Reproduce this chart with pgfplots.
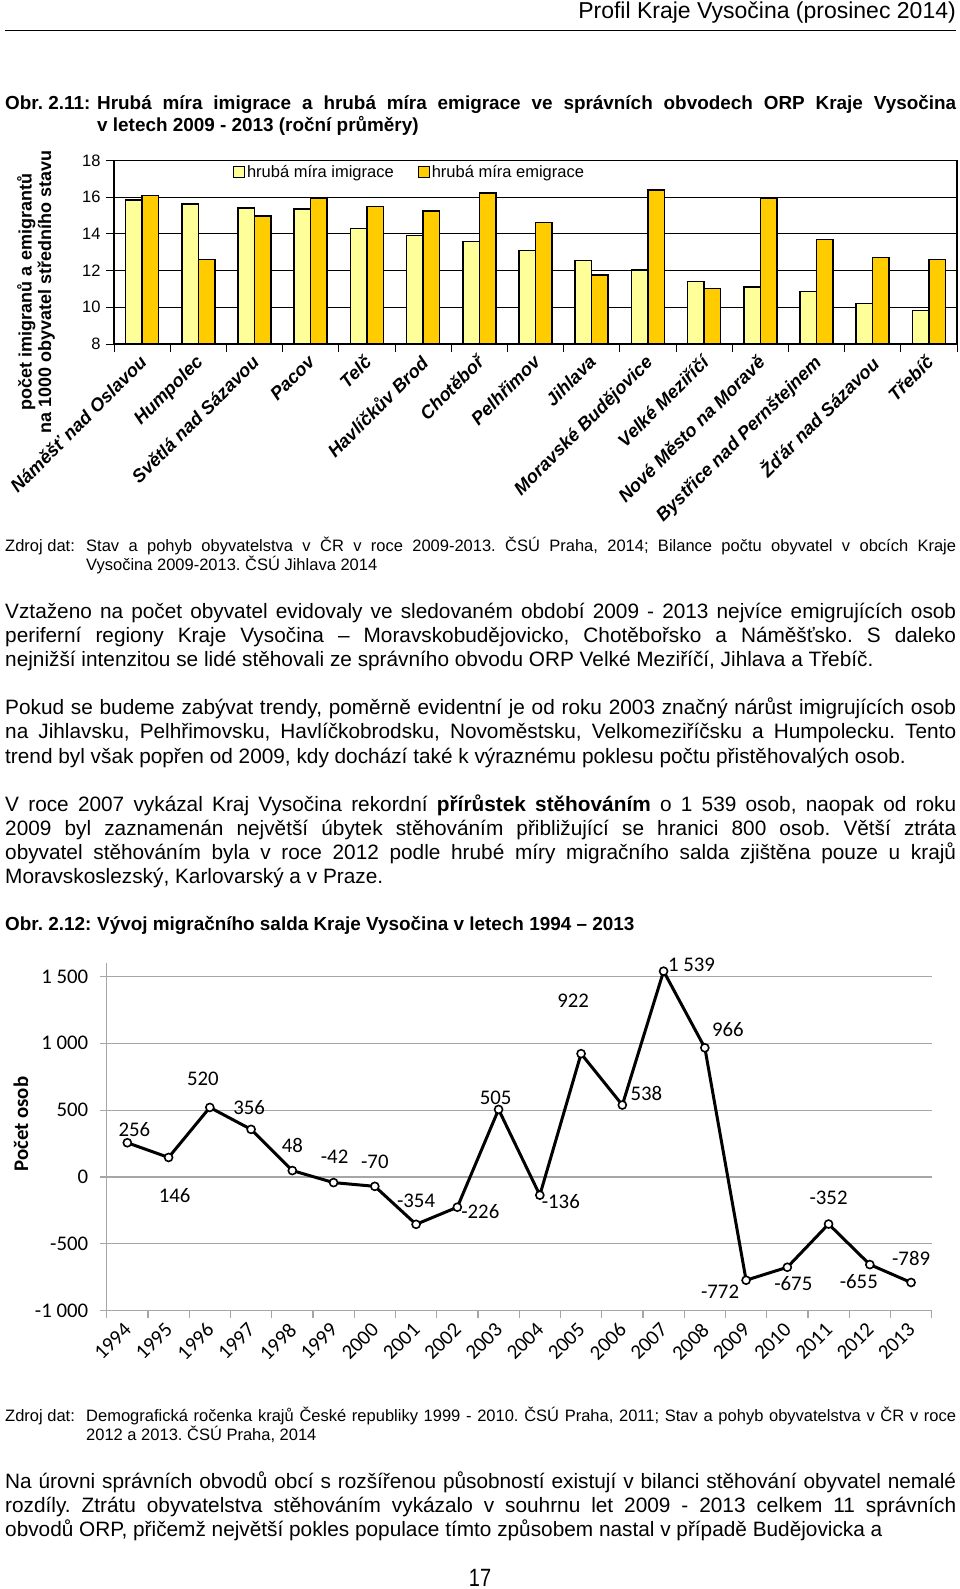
\documentclass[border=0pt]{standalone}
\usepackage{fontspec}
\setmainfont{Liberation Sans}
\newfontfamily\carlito{Carlito}
\usepackage{pgfplots}
\pgfplotsset{compat=1.18}
\definecolor{imig}{HTML}{FFFF99}
\definecolor{emig}{HTML}{FFCC00}
\definecolor{gridg}{HTML}{A6A6A6}
\pgfplotsset{sqlegend/.style={legend image code/.code={\draw[##1, line width=1pt] (0pt,-5.5pt) rectangle (11pt,5.5pt);}}}
\newcommand{\bodyf}{\fontsize{20.8}{24.3}\selectfont}
\newcommand{\srcf}{\fontsize{16.5}{19.6}\selectfont}
\newcommand{\ttlf}{\bfseries\fontsize{18.9}{22}\selectfont}
\newcommand{\calf}{\carlito\fontsize{20.8}{24}\selectfont}
\frenchspacing
\begin{document}
\begin{tikzpicture}[x=1pt,y=1pt]
\path[use as bounding box, fill=white] (0,0) rectangle (960,-1589);
% header
\node[anchor=base east, inner sep=0pt, font=\fontsize{23}{26}\selectfont] at (956,-19) {Profil Kraje Vysočina (prosinec 2014)};
\draw[line width=1pt] (5,-31) -- (956,-31);
% title 1
\node[anchor=base west, inner sep=0pt, font=\ttlf] at (5,-110) {Obr. 2.11:};
\node[anchor=base west, inner sep=0pt, text width=859pt, align=justify, font=\ttlf] at (97,-110) {Hrubá míra imigrace a hrubá míra emigrace ve správních obvodech ORP Kraje Vysočina\linebreak v letech 2009 - 2013 (roční průměry)};
% chart 1
\begin{axis}[
 at={(114pt,-344pt)}, anchor=south west, scale only axis,
 width=843pt, height=183.6pt,
 xmin=-0.5, xmax=14.5, ymin=8, ymax=18,
 ytick={8,10,...,18}, ymajorgrids, grid style={black, line width=0.8pt},
 axis line style={black, line width=1.2pt},
 tick align=outside, ytick pos=left, xtick pos=bottom,
 major tick length=8pt, minor tick length=8pt,
 tick style={black, line width=1pt},
 every major x tick/.append style={draw=none},
 xtick={0,...,14}, minor xtick={-0.5,0.5,...,14.5},
 xticklabels={Náměšť nad Oslavou, Humpolec, Světlá nad Sázavou, Pacov, Telč, Havlíčkův Brod, Chotěboř, Pelhřimov, Jihlava, Moravské Budějovice, Velké Meziříčí, Nové Město na Moravě, Bystřice nad Pernštejnem, Žďár nad Sázavou, Třebíč},
 xticklabel style={font=\bfseries\itshape\fontsize{18.3}{21}\selectfont, rotate=45, anchor=north east, inner sep=0pt, xshift=-4pt, yshift=1.5pt},
 /pgf/number format/assume math mode=true,
 yticklabel style={font=\fontsize{16.5}{19}\selectfont, xshift=-2pt},
 ybar=0pt, bar width=16.5pt,
 legend style={at={(0.141,0.938)}, anchor=west, draw=none, fill=none, inner sep=0pt,
   legend columns=2, font=\fontsize{16.5}{19}\selectfont,
   /tikz/every even column/.append style={column sep=22pt}},
 legend cell align=left,
]
\addplot[fill=imig, draw=black, line width=1.5pt, sqlegend]
 coordinates {(0,15.85) (1,15.62) (2,15.40) (3,15.35) (4,14.30) (5,13.90) (6,13.57) (7,13.10) (8,12.55) (9,12.04) (10,11.40) (11,11.10) (12,10.86) (13,10.20) (14,9.83)};
\addplot[fill=emig, draw=black, line width=1.5pt, sqlegend]
 coordinates {(0,16.10) (1,12.60) (2,14.97) (3,15.95) (4,15.50) (5,15.24) (6,16.22) (7,14.62) (8,11.75) (9,16.39) (10,11.03) (11,15.95) (12,13.70) (13,12.70) (14,12.60)};
\legend{hrubá míra imigrace, hrubá míra emigrace}
\end{axis}
\node[rotate=90, align=center, font=\bfseries\fontsize{18}{19.5}\selectfont, inner sep=0pt] at (36,-292) {počet imigranů a emigrantů\\na 1000 obyvatel středního stavu};
% source 1
\node[anchor=base west, inner sep=0pt, font=\srcf] at (5,-551) {Zdroj dat:};
\node[anchor=base west, inner sep=0pt, text width=870pt, align=justify, font=\srcf] at (86,-551) {Stav a pohyb obyvatelstva v ČR v roce 2009-2013. ČSÚ Praha, 2014; Bilance počtu obyvatel v obcích Kraje\linebreak Vysočina 2009-2013. ČSÚ Jihlava 2014};
% paragraphs
\node[anchor=base west, inner sep=0pt, text width=951pt, align=justify, font=\bodyf] at (5,-618) {Vztaženo na počet obyvatel evidovaly ve sledovaném období 2009 - 2013 nejvíce emigrujících osob\linebreak periferní regiony Kraje Vysočina – Moravskobudějovicko, Chotěbořsko a Náměšťsko. S daleko\linebreak nejnižší intenzitou se lidé stěhovali ze správního obvodu ORP Velké Meziříčí, Jihlava a Třebíč.};
\node[anchor=base west, inner sep=0pt, text width=951pt, align=justify, font=\bodyf] at (5,-714.6) {Pokud se budeme zabývat trendy, poměrně evidentní je od roku 2003 značný nárůst imigrujících osob\linebreak na Jihlavsku, Pelhřimovsku, Havlíčkobrodsku, Novoměstsku, Velkomeziříčsku a Humpolecku. Tento\linebreak trend byl však popřen od 2009, kdy dochází také k výraznému poklesu počtu přistěhovalých osob.};
\node[anchor=base west, inner sep=0pt, text width=951pt, align=justify, font=\bodyf] at (5,-811) {V roce 2007 vykázal Kraj Vysočina rekordní \textbf{přírůstek stěhováním} o 1 539 osob, naopak od roku\linebreak 2009 byl zaznamenán největší úbytek stěhováním přibližující se hranici 800 osob. Větší ztráta\linebreak obyvatel stěhováním byla v roce 2012 podle hrubé míry migračního salda zjištěna pouze u krajů\linebreak Moravskoslezský, Karlovarský a v Praze.};
% title 2
\node[anchor=base west, inner sep=0pt, font=\ttlf] at (5,-930.5) {Obr. 2.12:};
\node[anchor=base west, inner sep=0pt, font=\ttlf] at (97,-930.5) {Vývoj migračního salda Kraje Vysočina v letech 1994 – 2013};
% chart 2
\begin{axis}[
 at={(106.7pt,-1310.7pt)}, anchor=south west, scale only axis,
 width=825pt, height=347.7pt, clip=false,
 xmin=-0.5, xmax=19.5, ymin=-1000, ymax=1600,
 axis x line*=bottom, axis y line*=left,
 axis line style={gridg, line width=1.2pt, -},
 ytick={-1000,-500,...,1500}, yticklabels={-1 000,-500,0,500,1 000,1 500},
 ymajorgrids, grid style={gridg, line width=1.2pt},
 xtick={0,...,19}, minor xtick={-0.5,0.5,...,19.5},
 xticklabels={1994,1995,1996,1997,1998,1999,2000,2001,2002,2003,2004,2005,2006,2007,2008,2009,2010,2011,2012,2013},
 tick align=outside, major tick length=7pt, minor tick length=7pt,
 tick style={gridg, line width=1.2pt},
 every major x tick/.append style={draw=none},
 xticklabel style={font=\calf, rotate=45, anchor=north east, inner sep=0pt, xshift=-5.8pt, yshift=0.7pt},
 yticklabel style={font=\calf, xshift=-8pt},
]
\addplot[black, line width=3pt, mark=*, mark size=4pt, mark options={fill=white, draw=black, line width=1.6pt}]
 coordinates {(0,256) (1,146) (2,520) (3,356) (4,48) (5,-42) (6,-70) (7,-354) (8,-226) (9,505) (10,-136) (11,922) (12,538) (13,1539) (14,966) (15,-772) (16,-675) (17,-352) (18,-655) (19,-789)};
\begin{scope}[every node/.style={font=\calf, inner sep=0pt}]
\node[xshift=7pt, yshift=13pt] at (axis cs:0,256) {256};
\node[xshift=6pt, yshift=-38pt] at (axis cs:1,146) {146};
\node[xshift=-7pt, yshift=29pt] at (axis cs:2,520) {520};
\node[xshift=-2pt, yshift=22pt] at (axis cs:3,356) {356};
\node[xshift=0pt, yshift=25pt] at (axis cs:4,48) {48};
\node[xshift=1pt, yshift=26pt] at (axis cs:5,-42) {-42};
\node[xshift=0pt, yshift=25pt] at (axis cs:6,-70) {-70};
\node[xshift=0pt, yshift=24pt] at (axis cs:7,-354) {-354};
\node[xshift=23pt, yshift=-4pt] at (axis cs:8,-226) {-226};
\node[xshift=-3pt, yshift=12pt] at (axis cs:9,505) {505};
\node[xshift=21pt, yshift=-6pt] at (axis cs:10,-136) {-136};
\node[xshift=-8pt, yshift=53pt] at (axis cs:11,922) {922};
\node[xshift=24pt, yshift=12pt] at (axis cs:12,538) {538};
\node[xshift=28pt, yshift=6pt] at (axis cs:13,1539) {1 539};
\node[xshift=23pt, yshift=18pt] at (axis cs:14,966) {966};
\node[xshift=-26pt, yshift=-12pt] at (axis cs:15,-772) {-772};
\node[xshift=6pt, yshift=-16pt] at (axis cs:16,-675) {-675};
\node[xshift=0pt, yshift=26pt] at (axis cs:17,-352) {-352};
\node[xshift=-11pt, yshift=-17pt] at (axis cs:18,-655) {-655};
\node[xshift=0pt, yshift=24pt] at (axis cs:19,-789) {-789};
\end{scope}
\end{axis}
\node[rotate=90, font=\carlito\bfseries\fontsize{20.8}{24}\selectfont, inner sep=0pt] at (20.8,-1124) {Počet osob};
% source 2
\node[anchor=base west, inner sep=0pt, font=\srcf] at (5,-1421) {Zdroj dat:};
\node[anchor=base west, inner sep=0pt, text width=870pt, align=justify, font=\srcf] at (86,-1421) {Demografická ročenka krajů České republiky 1999 - 2010. ČSÚ Praha, 2011; Stav a pohyb obyvatelstva v ČR v roce\linebreak 2012 a 2013. ČSÚ Praha, 2014};
% paragraph 4
\node[anchor=base west, inner sep=0pt, text width=951pt, align=justify, font=\bodyf] at (5,-1488) {\parfillskip=0pt Na úrovni správních obvodů obcí s rozšířenou působností existují v bilanci stěhování obyvatel nemalé\linebreak rozdíly. Ztrátu obyvatelstva stěhováním vykázalo v souhrnu let 2009 - 2013 celkem 11 správních\linebreak obvodů ORP, přičemž největší pokles populace tímto způsobem nastal v případě Budějovicka a};
% page number
\node[anchor=base, inner sep=0pt, font=\fontsize{25}{28}\selectfont] at (480,-1586) {\scalebox{0.8}[1]{17}};
\end{tikzpicture}
\end{document}
